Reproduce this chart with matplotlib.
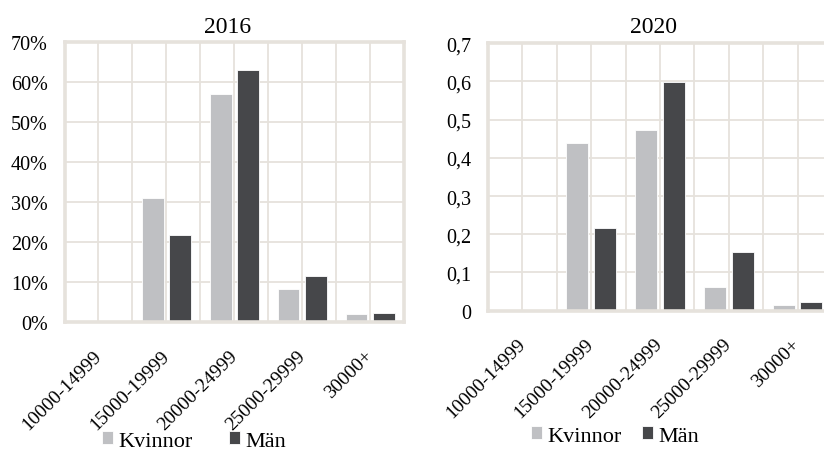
import numpy as np
import matplotlib
matplotlib.use("Agg")
import matplotlib.pyplot as plt

plt.rcParams['font.family'] = ['Liberation Serif', 'DejaVu Serif']

# Data
categories = ['10000-14999', '15000-19999', '20000-24999', '25000-29999', '30000+']
kvinnor_2016 = [0.0, 0.311, 0.571, 0.083, 0.021]
man_2016 = [0.0, 0.218, 0.630, 0.115, 0.023]
kvinnor_2020 = [0.0, 0.438, 0.473, 0.063, 0.015]
man_2020 = [0.0, 0.216, 0.598, 0.154, 0.024]
yticks = [0, 0.1, 0.2, 0.3, 0.4, 0.5, 0.6, 0.7]
ylabels_2016 = ['0%', '10%', '20%', '30%', '40%', '50%', '60%', '70%']
ylabels_2020 = ['0', '0,1', '0,2', '0,3', '0,4', '0,5', '0,6', '0,7']

light = '#bfc0c3'
dark = '#46474a'
frame = '#e6e2dc'

fig = plt.figure(figsize=(8.24, 4.52), dpi=100)
ax1 = fig.add_axes([0.0783, 0.2843, 0.412, 0.620])
ax2 = fig.add_axes([0.5922, 0.3104, 0.4175, 0.5916])

x = np.arange(len(categories))
w = 0.32


def draw(ax, k, m, title, ylabels, title_pad, xpad, leg_xy, colspace):
    ax.set_axisbelow(True)
    bk = ax.bar(x - 0.2, k, width=w, color=light, edgecolor='white', linewidth=0.6, label='Kvinnor')
    bm = ax.bar(x + 0.2, m, width=w, color=dark, edgecolor='white', linewidth=0.6, label='Män')
    ax.set_xlim(-0.5, len(categories) - 0.5)
    ax.set_ylim(0, 0.7)
    ax.set_yticks(yticks)
    ax.set_yticklabels(ylabels, fontsize=14.5)
    ax.set_xticks(x)
    ax.set_xticks(x[:-1] + 0.5, minor=True)
    ax.set_xticklabels(categories, fontsize=14, rotation=45, ha='right', va='center',
                       rotation_mode='anchor')
    ax.tick_params(axis='both', which='both', length=0)
    ax.tick_params(axis='x', pad=xpad)
    ax.tick_params(axis='y', pad=12)
    ax.grid(True, which='both', color=frame, linewidth=1.3)
    for s in ax.spines.values():
        s.set_color(frame)
        s.set_linewidth(2.6)
    ax.set_title(title, fontsize=17, x=0.48, pad=title_pad)
    ax.legend([bk, bm], ['Kvinnor', 'Män'], loc='center', ncol=2, frameon=False,
              bbox_to_anchor=leg_xy, bbox_transform=fig.transFigure,
              prop={'family': ['Liberation Serif'], 'size': 16},
              handlelength=0.5, handleheight=0.5, handletextpad=0.25,
              columnspacing=colspace, borderaxespad=0, borderpad=0)


draw(ax1, kvinnor_2016, man_2016, '2016', ylabels_2016, 7.5, 22, (194 / 824, 1 - 442 / 452), 1.6)
draw(ax2, kvinnor_2020, man_2020, '2020', ylabels_2020, 8.3, 22, (615 / 824, 1 - 437 / 452), 0.9)

fig.savefig('out.png', dpi=100)
